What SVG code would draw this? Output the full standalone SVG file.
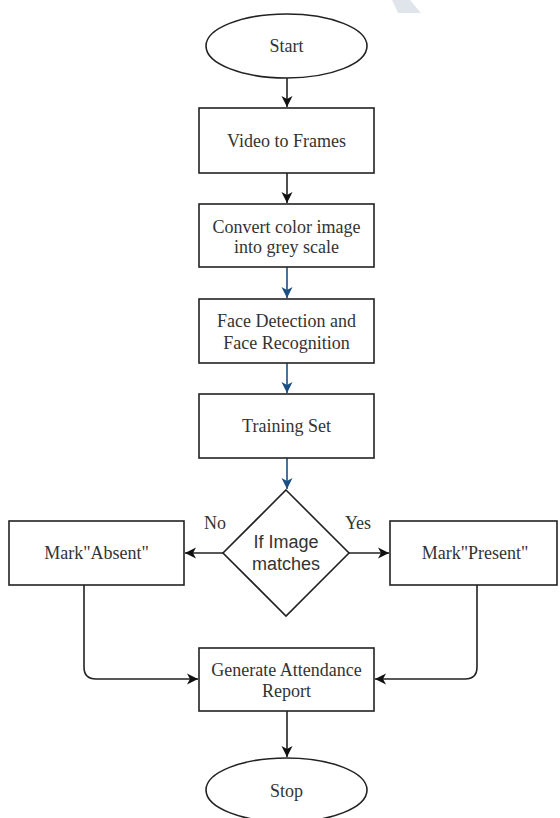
<svg xmlns="http://www.w3.org/2000/svg" width="560" height="818" viewBox="0 0 560 818">
<style>
.shape{fill:#fff;stroke:#222;stroke-width:1.6}
.t{font-family:"Liberation Serif","Times New Roman",serif;font-size:18px;fill:#333;text-anchor:middle}
.ts{font-family:"Liberation Sans",Arial,sans-serif;font-size:18px;fill:#333;text-anchor:middle}
.c{fill:none;stroke:#222;stroke-width:1.6}
.cb{fill:none;stroke:#1c4f82;stroke-width:1.6}
</style>
<defs>
<marker id="ak" markerUnits="userSpaceOnUse" markerWidth="12" markerHeight="12" viewBox="0 0 12 12" refX="11" refY="6" orient="auto">
<path d="M0,0.5 L11,6 L0,11.5 L3,6 z" fill="#111"/>
</marker>
<marker id="ab" markerUnits="userSpaceOnUse" markerWidth="12" markerHeight="12" viewBox="0 0 12 12" refX="11" refY="6" orient="auto">
<path d="M0,0.5 L11,6 L0,11.5 L3,6 z" fill="#1c4f82"/>
</marker>
</defs>
<rect width="560" height="818" fill="#fff"/>
<polygon points="392,0 410,0 421,13 398,13" fill="#dfe5eb"/>

<g id="connectors">
<path class="c" d="M287,78 V107" marker-end="url(#ak)"/>
<path class="c" d="M287,173 V203" marker-end="url(#ak)"/>
<path class="cb" d="M287,267 V298" marker-end="url(#ab)"/>
<path class="cb" d="M287,363 V393" marker-end="url(#ab)"/>
<path class="cb" d="M287,458 V489" marker-end="url(#ab)"/>
<path class="c" d="M223,553 H185" marker-end="url(#ak)"/>
<path class="c" d="M349,553 H389" marker-end="url(#ak)"/>
<path class="c" d="M84,585 V667 Q84,679 96,679 H198" marker-end="url(#ak)"/>
<path class="c" d="M477,585 V667 Q477,679 465,679 H375" marker-end="url(#ak)"/>
<path class="c" d="M287,711 V757" marker-end="url(#ak)"/>
<text class="t" x="215" y="529">No</text>
<text class="t" x="358" y="529">Yes</text>
</g>

<g id="start">
<ellipse class="shape" cx="286.5" cy="46" rx="80.5" ry="32"/>
<text class="t" x="286.5" y="52">Start</text>
</g>
<g id="video">
<rect class="shape" x="199" y="108" width="175" height="65"/>
<text class="t" x="286.5" y="147">Video to Frames</text>
</g>
<g id="convert">
<rect class="shape" x="199" y="204" width="175" height="63"/>
<text class="t" x="286.5" y="233">Convert color image</text>
<text class="t" x="286.5" y="253">into grey scale</text>
</g>
<g id="face">
<rect class="shape" x="199" y="299" width="175" height="64"/>
<text class="t" x="286.5" y="327">Face Detection and</text>
<text class="t" x="286.5" y="349">Face Recognition</text>
</g>
<g id="training">
<rect class="shape" x="199" y="394" width="175" height="64"/>
<text class="t" x="286.5" y="432">Training Set</text>
</g>
<g id="decision">
<polygon class="shape" points="286,490 349,553 286,616 223,553"/>
<text class="ts" x="286" y="548">If Image</text>
<text class="ts" x="286" y="570">matches</text>
</g>
<g id="absent">
<rect class="shape" x="9" y="521" width="175" height="64"/>
<text class="t" x="96.5" y="559">Mark"Absent"</text>
</g>
<g id="present">
<rect class="shape" x="390" y="521" width="167" height="64"/>
<text class="t" x="475" y="559">Mark"Present"</text>
</g>
<g id="report">
<rect class="shape" x="199" y="648" width="175" height="63"/>
<text class="t" x="286.5" y="676">Generate Attendance</text>
<text class="t" x="286.5" y="697">Report</text>
</g>
<g id="stop">
<ellipse class="shape" cx="286.5" cy="790" rx="80.5" ry="32"/>
<text class="t" x="286.5" y="797">Stop</text>
</g>
</svg>
